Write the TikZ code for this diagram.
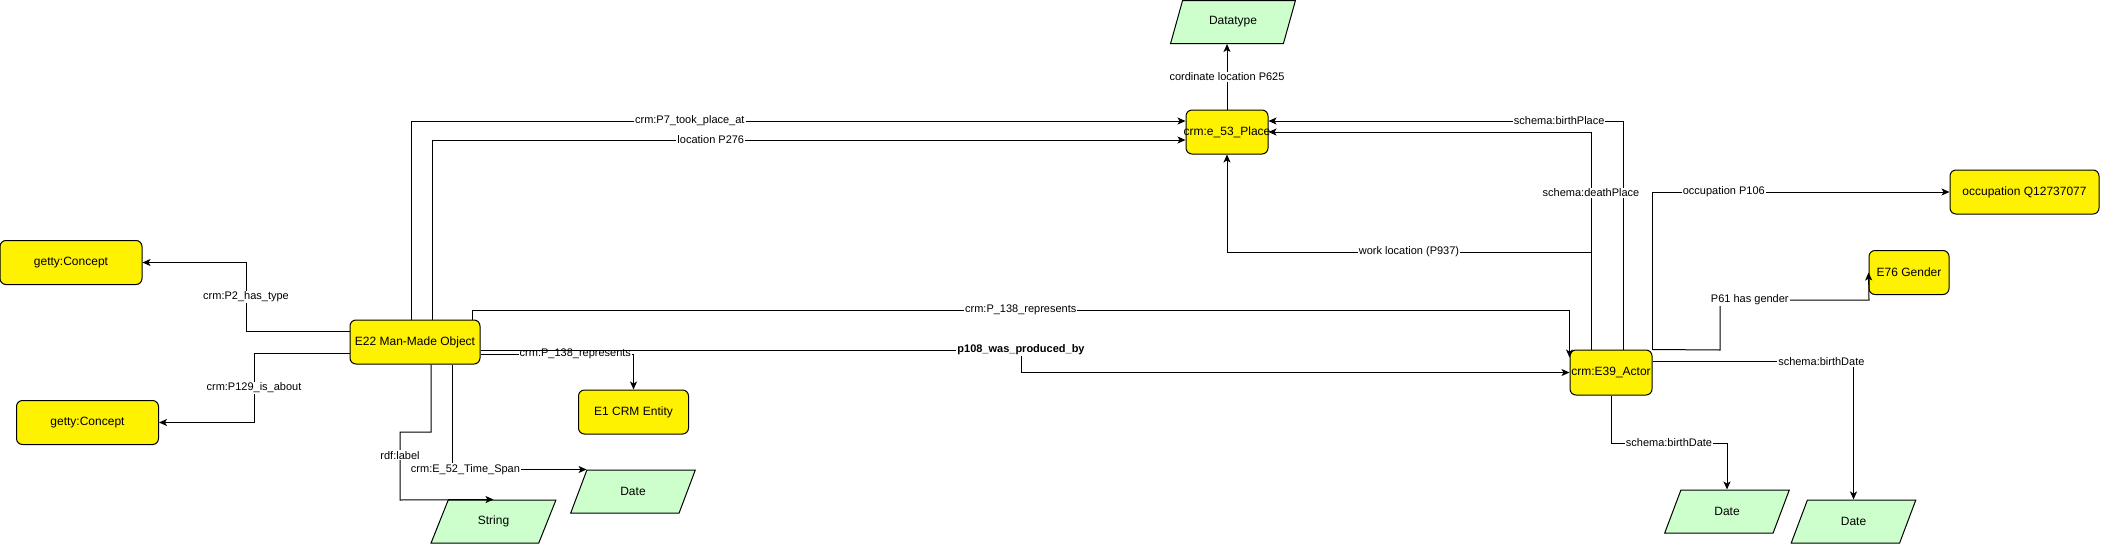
\documentclass[tikz,border=0pt]{standalone}
\usepackage{fontspec}
\setmainfont{Liberation Sans}
\usetikzlibrary{shapes.geometric,arrows.meta}
\definecolor{lightgreen}{HTML}{CCFFCC}

\begin{document}
\begin{tikzpicture}[x=1pt,y=-1pt]
    \tikzstyle{entity}=[draw, fill=yellow, rounded corners=6pt, inner sep=0pt, minimum height=44pt, line width=1pt, font=\fontsize{12}{14}\selectfont]
    \tikzstyle{literal}=[draw, fill=lightgreen, trapezium, trapezium left angle=62, trapezium right angle=118, trapezium stretches=true, inner sep=0pt, minimum width=125pt, minimum height=43pt, line width=1pt, font=\fontsize{12}{14}\selectfont]
    \tikzstyle{prop}=[fill=white, inner sep=1pt, font=\fontsize{11}{13}\selectfont]
    \tikzstyle{link}=[line width=1pt, -{Stealth[length=8pt,width=7pt,inset=2pt]}]
    \useasboundingbox (0,0) rectangle (2101,544);

    \node[entity, minimum width=142pt] (concepta) at (71,262.5) {getty:Concept};
    \node[entity, minimum width=142pt] (conceptb) at (87.5,422.5) {getty:Concept};
    \node[entity, minimum width=130pt] (object) at (415,342) {E22 Man-Made Object};
    \node[entity, minimum width=110pt] (entity1) at (633.5,412) {E1 CRM Entity};
    \node[entity, minimum width=82pt] (place) at (1227,132) {\makebox[0pt]{crm:e\_53\_Place}};
    \node[entity, minimum width=82pt, minimum height=45pt] (actor) at (1611,372.5) {\makebox[0pt]{crm:E39\_Actor}};
    \node[entity, minimum width=149pt] (occupation) at (2024.5,192) {occupation Q12737077};
    \node[entity, minimum width=80pt] (gender) at (1909,272.5) {E76 Gender};
    \node[literal] (datatype) at (1233,22) {Datatype};
    \node[literal] (string) at (493.5,521.5) {String};
    \node[literal] (objdate) at (633,491.5) {Date};
    \node[literal] (datea) at (1727,511.5) {Date};
    \node[literal] (dateb) at (1853.5,521.5) {Date};

    \draw[link] ([yshift=11pt]object.west) -- (246,331) |- node[prop,pos=0.25]{crm:P2\_has\_type} (concepta.east);
    \draw[link] ([yshift=-11pt]object.west) -- (254,353) |- node[prop,pos=0.25]{crm:P129\_is\_about} (conceptb.east);
    \draw[link] ([xshift=16pt]object.south) -- (431,432) -- (400,432) -- node[prop,pos=0.34]{rdf:label} (400,500) -- (string.north);
    \draw[link] ([xshift=37pt]object.south) |- node[prop,pos=0.55]{crm:E\_52\_Time\_Span} (objdate.top left corner);
    \draw[link] ([yshift=-12pt]object.east) -| node[prop,pos=0.31]{crm:P\_138\_represents} (entity1.north);
    \draw[link] ([yshift=-8pt]object.east) -- (1021,350) node[prop,font=\fontsize{11}{13}\selectfont\bfseries]{p108\_was\_produced\_by} |- (actor.west);
    \draw[link] ([xshift=57pt]object.north) -- (472,310) -| node[prop,pos=0.25]{crm:P\_138\_represents} ([yshift=-8pt]actor.north west);
    \draw[link] ([xshift=-4pt]object.north) |- node[prop,pos=0.68]{crm:P7\_took\_place\_at} ([yshift=11pt]place.west);
    \draw[link] ([xshift=17pt]object.north) |- node[prop,pos=0.685]{location P276} ([yshift=-8pt]place.west);
    \draw[link] (place.north) -- node[prop]{cordinate location P625} (place.north |- datatype.south);

    \draw[link] ([xshift=12pt]actor.north) |- node[prop,pos=0.59]{schema:birthPlace} ([yshift=11pt]place.east);
    \draw[link] ([xshift=-20pt]actor.north) |- node[prop,pos=0.36]{schema:deathPlace} (place.east);
    \draw[link] ([xshift=-20pt]actor.north) -- (1591,252) -| node[prop,pos=0.25]{work location (P937)} (place.south);
    \draw[link] (actor.north east) |- node[prop,pos=0.62]{occupation P106} (occupation.west);
    \draw[link] (actor.north east) -- (1720,350) -- (1720,300) -- node[prop,pos=0.2]{P61 has gender} (1869,300) -- (gender.west);
    \draw[link] ([yshift=11pt]actor.east) -| node[prop,pos=0.42]{schema:birthDate} (dateb.north);
    \draw[link] (actor.south) -- (1611,443) -| node[prop,pos=0.25]{schema:birthDate} (datea.north);
\end{tikzpicture}
\end{document}
